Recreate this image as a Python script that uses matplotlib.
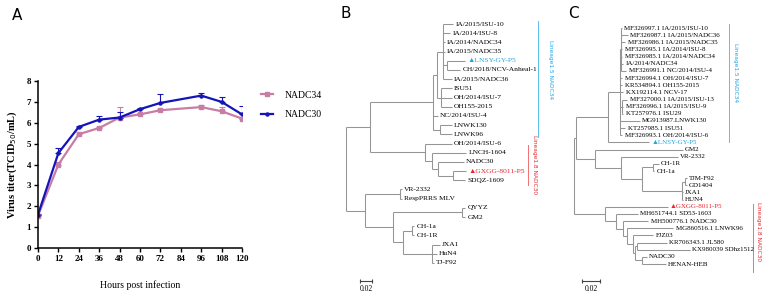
import numpy as np
import matplotlib
matplotlib.use('Agg')
import matplotlib.pyplot as plt
from matplotlib.collections import LineCollection
from matplotlib.lines import Line2D

# ---- panel A: growth curves ----
hours = [0, 12, 24, 36, 48, 60, 72, 96, 108, 120]
nadc34 = [1.55, 4.0, 5.45, 5.75, 6.25, 6.4, 6.6, 6.75, 6.55, 6.2]
nadc34_err = [0.05, 0.1, 0.1, 0.05, 0.5, 0.05, 0.05, 0.1, 0.2, 0.05]
nadc30 = [1.6, 4.55, 5.8, 6.15, 6.25, 6.65, 6.95, 7.3, 7.0, 6.4]
nadc30_err = [0.05, 0.25, 0.05, 0.15, 0.25, 0.05, 0.45, 0.12, 0.22, 0.4]
xticks = [0, 12, 24, 36, 48, 60, 72, 84, 96, 108, 120]

# ---- panel B / C: trees (branch lengths in substitutions/site) ----
tree_b = ("(((((IA/2015/ISU-10:0.0167,IA/2014/ISU-8:0.0117,IA/2014/NADC34:0.0033,"
          "IA/2015/NADC35:0.0033,(LNSY-GY-P5:0.030,CH/2018/NCV-Anheal-1:0.0217):0.0067,"
          "IA/2015/NADC36:0.015):0.010,(ISU51:0.0183,OH/2014/ISU-7:0.0183,OH155-2015:0.0183):0.0067):0.0067,"
          "NC/2014/ISU-4:0.0083,(LNWK130:0.020,LNWK96:0.020):0.0117):0.105,"
          "(OH/2014/ISU-6:0.045,(LNCH-1604:0.0567,(NADC30:0.0433,(GXGG-8011-P5:0.0217,"
          "SDQZ-1609:0.020):0.025):0.010):0.0117):0.0917):0.040,"
          "((VR-2332:0.0033,RespPRRS MLV:0.0033):0.0583,((QYYZ:0.005,GM2:0.005):0.115,"
          "((CH-1a:0.0033,CH-1R:0.0033):0.015,(JXA1:0.0133,HuN4:0.0083,TJ-F92:0.0033):0.0483):0.0167):0.0467):0.0317);")

tree_c = ("(((((MF326997.1 IA/2015/ISU-10:0.0011,MF326987.1 IA/2015/NADC36:0.0089,"
          "MF326986.1 IA/2015/NADC35:0.0056,MF326995.1 IA/2014/ISU-8:0.0022,"
          "MF326985.1 IA/2014/NADC34:0.0022,IA/2014/NADC34:0.0033,MF326991.1 NC/2014/ISU-4:0.0067):0.0011,"
          "MF326994.1 OH/2014/ISU-7:0.0033,KR534894.1 OH155-2015:0.0033,KX192114.1 NCV-17:0.0044,"
          "(MF327000.1 IA/2015/ISU-13:0.0056,MF326996.1 IA/2015/ISU-9:0.0011,KT257976.1 ISU29:0.0011):0.0033,"
          "MG913987.LNWK130:0.0233,KT257985.1 ISU51:0.0067,MF326993.1 OH/2014/ISU-6:0.0033):0.0133,"
          "LNSY-GY-P5:0.0478):0.0367,"
          "(GM2:0.1022,(VR-2332:0.0667,((CH-1R:0.0067,CH-1a:0.0011):0.0133,"
          "((TJM-F92:0.0022,GD1404:0.0022):0.0033,JXA1:0.0011,HUN4:0.0011):0.0467):0.0244):0.030):0.0211):0.0033,"
          "(GXGG-8011-P5:0.0722,(MH651744.1 SD53-1603:0.0256,(MH500776.1 NADC30:0.030,"
          "(MG860516.1 LNWK96:0.0533,(FJZ03:0.0233,((KR706343.1 JL580:0.0344,KX980039 SDhz1512:0.0611):0.0022,"
          "(NADC30:0.0056,HENAN-HEB:0.0278):0.0078):0.0022):0.0067):0.0056):0.0078):0.0122):0.0367);")

highlight = {'LNSY-GY-P5': '#1ea5e3', 'GXGG-8011-P5': '#e8262e'}
lineage_blue = 'Lineage1.5 NADC34'
lineage_red = 'Lineage1.8 NADC30'


def parse_newick(s):
    s = s.strip().rstrip(';')
    pos = 0

    def node():
        nonlocal pos
        while s[pos] == ' ':
            pos += 1
        kids = []
        if s[pos] == '(':
            pos += 1
            while True:
                kids.append(node())
                if s[pos] == ',':
                    pos += 1
                    continue
                if s[pos] == ')':
                    pos += 1
                    break
        start = pos
        while pos < len(s) and s[pos] not in ',():':
            pos += 1
        name = s[start:pos].strip()
        length = 0.0
        if pos < len(s) and s[pos] == ':':
            pos += 1
            start = pos
            while pos < len(s) and s[pos] not in ',()':
                pos += 1
            length = float(s[start:pos])
        return {'name': name, 'len': length, 'kids': kids}
    return node()


def layout(tree):
    leaves, segs = [], []

    def walk(n, x0):
        x = x0 + n['len']
        if not n['kids']:
            y = len(leaves)
            leaves.append((n['name'], x, y))
            segs.append([(x0, y), (x, y)])
            return y
        ys = [walk(k, x) for k in n['kids']]
        segs.append([(x, ys[0]), (x, ys[-1])])
        y = (ys[0] + ys[-1]) / 2
        segs.append([(x0, y), (x, y)])
        return y
    walk(tree, 0.0)
    return leaves, segs


def draw_tree(ax, newick, fs):
    leaves, segs = layout(parse_newick(newick))
    ax.add_collection(LineCollection(segs, colors='#959595', linewidths=0.75))
    for name, x, y in leaves:
        col = highlight.get(name, 'black')
        txt = ('\u25b2' + name) if name in highlight else name
        ax.annotate(txt, (x, y), xytext=(1.6, 0), textcoords='offset points',
                    va='center', ha='left', fontsize=fs, color=col,
                    family=['Liberation Serif', 'DejaVu Sans'], annotation_clip=False)
    return leaves


W, H = 776, 298
fig = plt.figure(figsize=(W / 100, H / 100), dpi=100)


def frac(x0, y0, x1, y1):
    return [x0 / W, 1 - y1 / H, (x1 - x0) / W, (y1 - y0) / H]


# ---------------- A ----------------
axA = fig.add_axes(frac(38, 81, 242, 248))
pink = '#c77ea4'
blue = '#1414b8'
z = np.zeros(len(hours))
axA.errorbar(hours, nadc34, yerr=[z, nadc34_err], color=pink, marker='s', ms=2.2,
             lw=1.6, elinewidth=0.8, capsize=2, capthick=0.8, label='NADC34')
axA.errorbar(hours, nadc30, yerr=[z, nadc30_err], color=blue, marker='o', ms=2.2,
             lw=1.6, elinewidth=0.8, capsize=2, capthick=0.8, label='NADC30')
axA.set_xlim(0, 120)
axA.set_ylim(0, 8)
axA.set_xticks(xticks)
axA.set_yticks(range(0, 9))
for s in ['top', 'right']:
    axA.spines[s].set_visible(False)
for s in ['left', 'bottom']:
    axA.spines[s].set_linewidth(1.1)
axA.tick_params(length=3, width=1.0, pad=2)
for lab in axA.get_xticklabels() + axA.get_yticklabels():
    lab.set_family('Liberation Serif')
    lab.set_fontweight('bold')
    lab.set_fontsize(6.5)
axA.set_xlabel('Hours post infection', family='Liberation Serif', fontsize=7)
axA.xaxis.set_label_coords(0.5, -(285 - 248) / 167)
axA.xaxis.label.set_va('center')
axA.set_ylabel('Virus titer(TCID$_{50}$/mL)', family='Liberation Serif',
               fontsize=7.5, fontweight='bold')
axA.yaxis.set_label_coords(-(38 - 12) / 204, 0.5)
axA.yaxis.label.set_va('center')
hdl = [Line2D([], [], color=pink, marker='s', ms=2.2, lw=1.6),
       Line2D([], [], color=blue, marker='o', ms=2.2, lw=1.6)]
axA.legend(hdl, ['NADC34', 'NADC30'], loc='upper left',
           bbox_to_anchor=((252 - 38) / 204, (248 - 82) / 167), frameon=False,
           handlelength=1.3, handletextpad=1.2, labelspacing=1.1,
           prop={'family': 'Liberation Serif', 'size': 7})
fig.text(17 / W, 1 - 15 / H, 'A', fontsize=11, ha='center', va='center')

# ---------------- B ----------------
pxb = 600.0   # px per substitution unit
axB = fig.add_axes(frac(340, 5, 560, 295))
leaves_b = draw_tree(axB, tree_b, 5.4)
nb = len(leaves_b) - 1
step_b = (263 - 24) / nb
axB.set_xlim(-6 / pxb, 214 / pxb)
axB.set_ylim(nb + (295 - 263) / step_b, -(24 - 5) / step_b)
axB.axis('off')
fig.text(346 / W, 1 - 13 / H, 'B', fontsize=11, ha='center', va='center')
# lineage bars
axB.plot([(538 - 346) / pxb] * 2, [-0.3, 12.3], color='#5bc0eb', lw=0.7, clip_on=False)
axB.text((551 - 346) / pxb, 5.0, lineage_blue, rotation=270, color='#1ea5e3',
         fontsize=4.2, ha='center', va='center')
axB.plot([(528 - 346) / pxb] * 2, [13.2, 17.5], color='#f07070', lw=0.7, clip_on=False)
axB.text((535 - 346) / pxb, 15.3, lineage_red, rotation=270, color='#e8262e',
         fontsize=4.2, ha='center', va='center')
# scale bar
sb_y = nb + (281 - 263) / step_b
axB.plot([0.0233, 0.0433], [sb_y, sb_y], color='#444444', lw=0.8,
         marker='|', ms=3, mew=0.8)
axB.text(0.0333, sb_y + 0.4, '0.02', fontsize=5.5, family='Liberation Serif',
         ha='center', va='top')

# ---------------- C ----------------
pxc = 900.0
axC = fig.add_axes(frac(565, 5, 776, 295))
leaves_c = draw_tree(axC, tree_c, 5.0)
nc = len(leaves_c) - 1
step_c = (264 - 28) / nc
axC.set_xlim(-9 / pxc, 211 / pxc)
axC.set_ylim(nc + (295 - 264) / step_c, -(28 - 5) / step_c)
axC.axis('off')
fig.text(573 / W, 1 - 14 / H, 'C', fontsize=11, ha='center', va='center')
axC.plot([(736 - 574) / pxc] * 2, [-0.6, 15.9], color='#5bc0eb', lw=0.7, clip_on=False)
axC.text((743 - 574) / pxc, 6.2, lineage_blue, rotation=270, color='#1ea5e3',
         fontsize=4.2, ha='center', va='center')
axC.plot([(761 - 574) / pxc] * 2, [24.6, 34.1], color='#f07070', lw=0.7, clip_on=False)
axC.text((767 - 574) / pxc, 28.5, lineage_red, rotation=270, color='#e8262e',
         fontsize=4.2, ha='center', va='center')
sc_y = nc + (281 - 264) / step_c
axC.plot([0.01, 0.03], [sc_y, sc_y], color='#444444', lw=0.8,
         marker='|', ms=3, mew=0.8)
axC.text(0.02, sc_y + 0.5, '0.02', fontsize=5.5, family='Liberation Serif',
         ha='center', va='top')

fig.savefig('out.png', dpi=100)
